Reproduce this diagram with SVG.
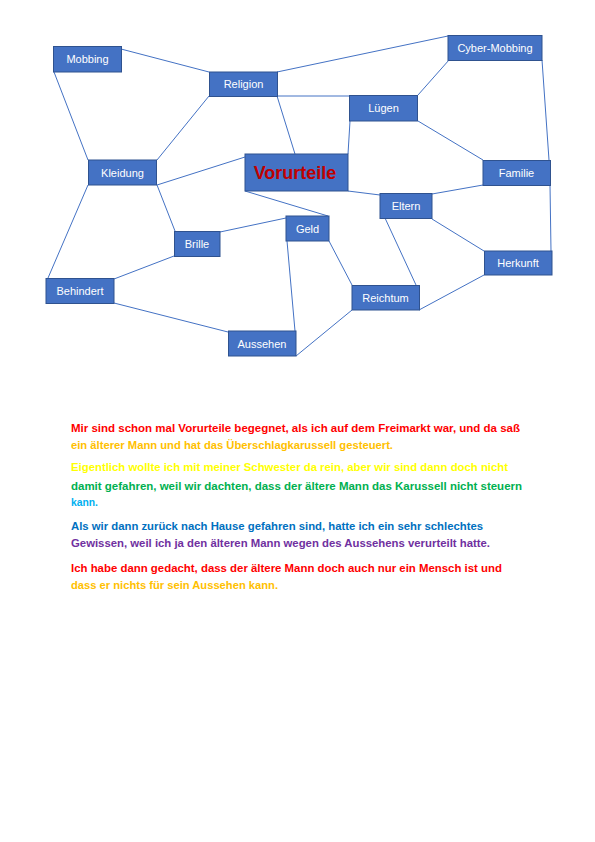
<svg xmlns="http://www.w3.org/2000/svg" width="595" height="842" viewBox="0 0 595 842">
<style>
.n rect{fill:#4472C4;stroke:#2F528F;stroke-width:1}
.n text{fill:#fff;font-family:"Liberation Sans",Arial,sans-serif;font-size:11px;text-anchor:middle}
#edges line{stroke:#4472C4;stroke-width:1}
.p{font-family:"Liberation Sans",Arial,sans-serif;font-size:10px;font-weight:bold}
</style>
<rect width="595" height="842" fill="#fff"/>
<g id="edges">
<line x1="121" y1="49" x2="209" y2="72"/>
<line x1="54" y1="72" x2="88" y2="160"/>
<line x1="209" y1="96" x2="157" y2="160"/>
<line x1="277" y1="72" x2="448" y2="36"/>
<line x1="277" y1="96" x2="349" y2="96"/>
<line x1="277" y1="96" x2="295" y2="154"/>
<line x1="157" y1="185" x2="245" y2="157"/>
<line x1="88" y1="185" x2="48" y2="278"/>
<line x1="157" y1="185" x2="175" y2="231"/>
<line x1="220" y1="232" x2="286" y2="218"/>
<line x1="174" y1="256" x2="114" y2="279"/>
<line x1="114" y1="303" x2="228" y2="332"/>
<line x1="287" y1="241" x2="295" y2="331"/>
<line x1="296" y1="356" x2="352" y2="310"/>
<line x1="245" y1="191" x2="328" y2="216"/>
<line x1="348" y1="191" x2="380" y2="195"/>
<line x1="348" y1="154" x2="350" y2="121"/>
<line x1="418" y1="95" x2="449" y2="60"/>
<line x1="418" y1="121" x2="483" y2="160"/>
<line x1="542" y1="60" x2="549" y2="160"/>
<line x1="483" y1="185" x2="432" y2="194"/>
<line x1="550" y1="185" x2="551" y2="251"/>
<line x1="432" y1="219" x2="484" y2="251"/>
<line x1="385" y1="218" x2="416" y2="285"/>
<line x1="329" y1="241" x2="352" y2="285"/>
<line x1="419" y1="310" x2="484" y2="275"/>
</g>
<g id="mobbing" class="n"><rect x="53.5" y="46.5" width="68" height="25.5"/><text x="87.5" y="63">Mobbing</text></g>
<g id="religion" class="n"><rect x="209.5" y="72" width="68" height="24.5"/><text x="243.5" y="88">Religion</text></g>
<g id="cybermobbing" class="n"><rect x="448" y="35.5" width="94" height="25"/><text x="495" y="52">Cyber-Mobbing</text></g>
<g id="luegen" class="n"><rect x="349.5" y="95.5" width="68" height="25.5"/><text x="383.5" y="112">Lügen</text></g>
<g id="kleidung" class="n"><rect x="88.5" y="160" width="68" height="25"/><text x="122.5" y="176.5">Kleidung</text></g>
<g id="vorurteile" class="n"><rect x="245" y="154" width="103" height="37"/><text x="295" y="178.5" style="fill:#C00000;font-size:18px;font-weight:bold">Vorurteile</text></g>
<g id="familie" class="n"><rect x="483" y="160.5" width="67.5" height="25"/><text x="516.5" y="177">Familie</text></g>
<g id="eltern" class="n"><rect x="380" y="193.5" width="52" height="25"/><text x="406" y="210">Eltern</text></g>
<g id="brille" class="n"><rect x="174.5" y="231.5" width="45.5" height="25"/><text x="197" y="248">Brille</text></g>
<g id="geld" class="n"><rect x="286" y="216" width="43" height="25"/><text x="307.5" y="232.5">Geld</text></g>
<g id="herkunft" class="n"><rect x="484.5" y="251" width="67.5" height="24"/><text x="518" y="267">Herkunft</text></g>
<g id="behindert" class="n"><rect x="46" y="278.5" width="68" height="25"/><text x="80" y="295">Behindert</text></g>
<g id="reichtum" class="n"><rect x="352" y="285.5" width="67.5" height="24.5"/><text x="385.5" y="302">Reichtum</text></g>
<g id="aussehen" class="n"><rect x="228.5" y="331" width="67.5" height="25"/><text x="262" y="347.5">Aussehen</text></g>
<g id="text">
<text class="p" x="71" y="432" fill="#FF0000" textLength="449" lengthAdjust="spacingAndGlyphs">Mir sind schon mal Vorurteile begegnet, als ich auf dem Freimarkt war, und da saß</text>
<text class="p" x="71" y="449" fill="#FFC000" textLength="322" lengthAdjust="spacingAndGlyphs">ein älterer Mann und hat das Überschlagkarussell gesteuert.</text>
<text class="p" x="71" y="471" fill="#FFFF00" textLength="437" lengthAdjust="spacingAndGlyphs">Eigentlich wollte ich mit meiner Schwester da rein, aber wir sind dann doch nicht</text>
<text class="p" x="71" y="490" fill="#00B050" textLength="451" lengthAdjust="spacingAndGlyphs">damit gefahren, weil wir dachten, dass der ältere Mann das Karussell nicht steuern</text>
<text class="p" x="71" y="506" fill="#00B0F0" textLength="27" lengthAdjust="spacingAndGlyphs">kann.</text>
<text class="p" x="71" y="530" fill="#0070C0" textLength="412" lengthAdjust="spacingAndGlyphs">Als wir dann zurück nach Hause gefahren sind, hatte ich ein sehr schlechtes</text>
<text class="p" x="71" y="547" fill="#7030A0" textLength="419" lengthAdjust="spacingAndGlyphs">Gewissen, weil ich ja den älteren Mann wegen des Aussehens verurteilt hatte.</text>
<text class="p" x="71" y="572" fill="#FF0000" textLength="431" lengthAdjust="spacingAndGlyphs">Ich habe dann gedacht, dass der ältere Mann doch auch nur ein Mensch ist und</text>
<text class="p" x="71" y="589" fill="#FFC000" textLength="207" lengthAdjust="spacingAndGlyphs">dass er nichts für sein Aussehen kann.</text>
</g>
</svg>
